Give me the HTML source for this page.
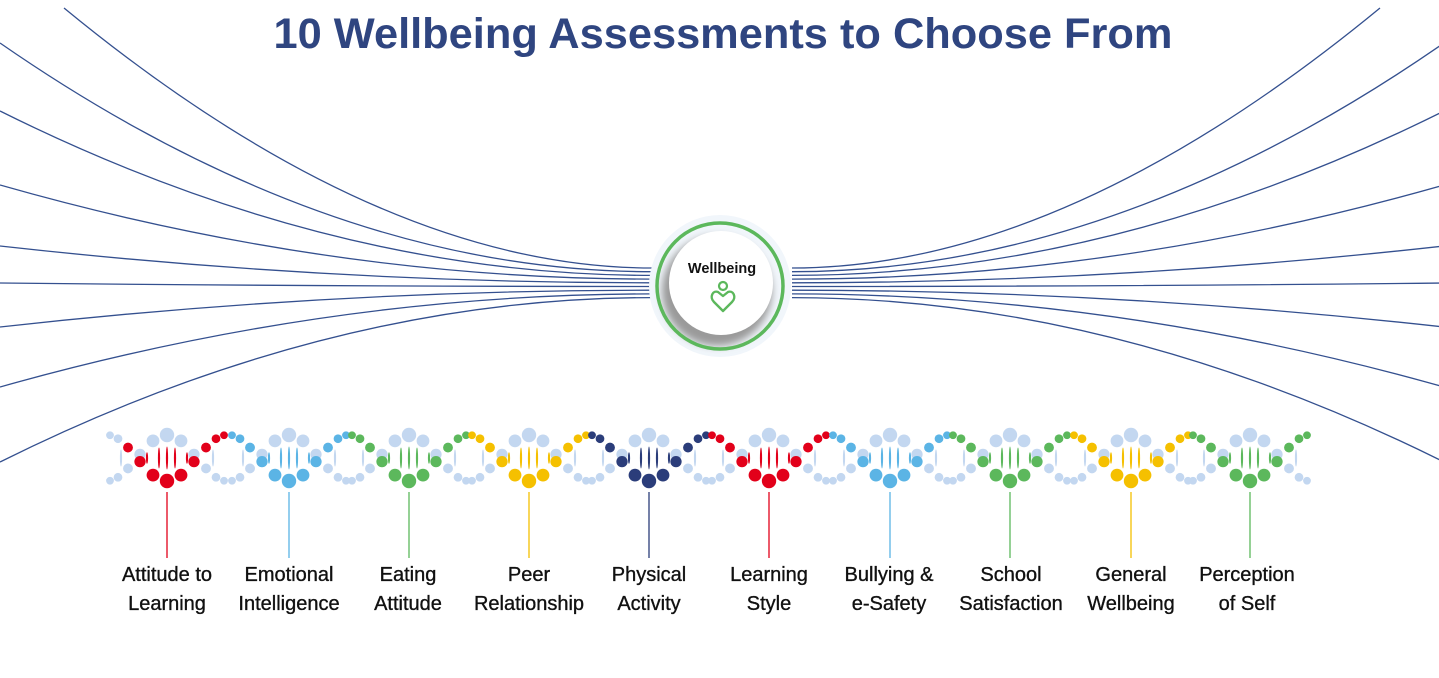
<!DOCTYPE html>
<html><head><meta charset="utf-8"><style>
html,body{margin:0;padding:0;background:#fff;}
body{width:1439px;height:678px;overflow:hidden;position:relative;font-family:"Liberation Sans",sans-serif;}
.lbl{position:absolute;top:561px;width:140px;margin-left:-70px;text-align:center;font-size:20px;line-height:29px;color:#111;-webkit-text-stroke:0.35px #111;}
</style></head><body>
<svg id="s" width="1439" height="678" style="position:absolute;left:0;top:0">
<defs>
<filter id="sh" x="-30%" y="-30%" width="160%" height="160%"><feGaussianBlur stdDeviation="4"/></filter>
</defs>
<text x="723" y="48" text-anchor="middle" font-family="Liberation Sans" font-weight="bold" font-size="43" fill="#2f4580" textLength="899" lengthAdjust="spacingAndGlyphs">10 Wellbeing Assessments to Choose From</text>
<g id="fanL" fill="none" stroke="#34508f" stroke-width="1.3"></g>
<g id="fanR" fill="none" stroke="#34508f" stroke-width="1.3" transform="translate(1444,0) scale(-1,1)"></g>
<circle cx="720" cy="286" r="71" fill="#f1f6fb"/>
<circle cx="717" cy="291" r="55" fill="#9a9a9a" filter="url(#sh)"/>
<circle cx="720" cy="286" r="63" fill="none" stroke="#5cb85c" stroke-width="3.5"/>
<circle cx="721" cy="283" r="52" fill="#fff"/>
<text x="722" y="273" text-anchor="middle" font-family="Liberation Sans" font-weight="bold" font-size="14.5" fill="#111">Wellbeing</text>
<circle cx="723" cy="286" r="4" fill="none" stroke="#5cb85c" stroke-width="2.2"/>
<path d="M723 311 L714 302 C709 297 713 290 718 292 L723 296 L728 292 C733 290 737 297 732 302 Z" fill="none" stroke="#5cb85c" stroke-width="2.4" stroke-linejoin="round"/>
<g id="dna"></g>
</svg>
<div class="lbl" style="left:167px">Attitude to<br>Learning</div>
<div class="lbl" style="left:289px">Emotional<br>Intelligence</div>
<div class="lbl" style="left:408px">Eating<br>Attitude</div>
<div class="lbl" style="left:529px">Peer<br>Relationship</div>
<div class="lbl" style="left:649px">Physical<br>Activity</div>
<div class="lbl" style="left:769px">Learning<br>Style</div>
<div class="lbl" style="left:889px">Bullying &amp;<br>e-Safety</div>
<div class="lbl" style="left:1011px">School<br>Satisfaction</div>
<div class="lbl" style="left:1131px">General<br>Wellbeing</div>
<div class="lbl" style="left:1247px">Perception<br>of Self</div>
<script>
var NS="http://www.w3.org/2000/svg";
function el(p,t,a){var e=document.createElementNS(NS,t);for(var k in a)e.setAttribute(k,a[k]);p.appendChild(e);return e;}
var starts=[[64,8],[0,43],[0,111],[0,185],[0,246],[0,283],[0,327],[0,387],[0,462]];
var L=document.getElementById('fanL'),R=document.getElementById('fanR');
starts.forEach(function(s,i){var ye=268+i*3.7;var d="M"+s[0]+" "+s[1]+" Q"+(s[0]==64?380:330)+" "+ye+" 652 "+ye;
el(L,'path',{d:d});el(R,'path',{d:d});});
var cols=["#e2001a","#5bb4e5","#5cb85c","#f5c000","#2b3d7a","#e2001a","#5bb4e5","#5cb85c","#f5c000","#5cb85c"];
var cx=[167,289,409,529,649,769,890,1010,1131,1250];
var light="#c3d7f0";var g=document.getElementById('dna');
cx.forEach(function(c,k){
 var col=cols[k];
 [0,-8,8,-20,20,-33,33,-46,46].forEach(function(o){
  var ph=2*Math.PI*o/120;var gap=Math.abs(46*Math.cos(ph));var h=gap*0.5;
  if(h<4)return;var bc=(Math.abs(o)>38)?light:col;
  el(g,'ellipse',{cx:c+o,cy:458,rx:1.1,ry:h/2,fill:bc});
 });
 [0,-14,14,-27,27,-39,39,-49,49,-57,57].forEach(function(o){
  var ph=2*Math.PI*o/120;var cs=Math.cos(ph);var r=7.2-3.3*Math.abs(o)/57;
  var ya=458+23*cs,yb=458-23*cs;
  var cc=col;if(k==0&&o<=-49)cc=light;
  el(g,'circle',{cx:c+o,cy:yb,r:r,fill:light});
  el(g,'circle',{cx:c+o,cy:ya,r:r,fill:cc});
 });
 el(g,'line',{x1:c,y1:492,x2:c,y2:558,stroke:col,"stroke-width":1.3});
});
</script>
</body></html>
